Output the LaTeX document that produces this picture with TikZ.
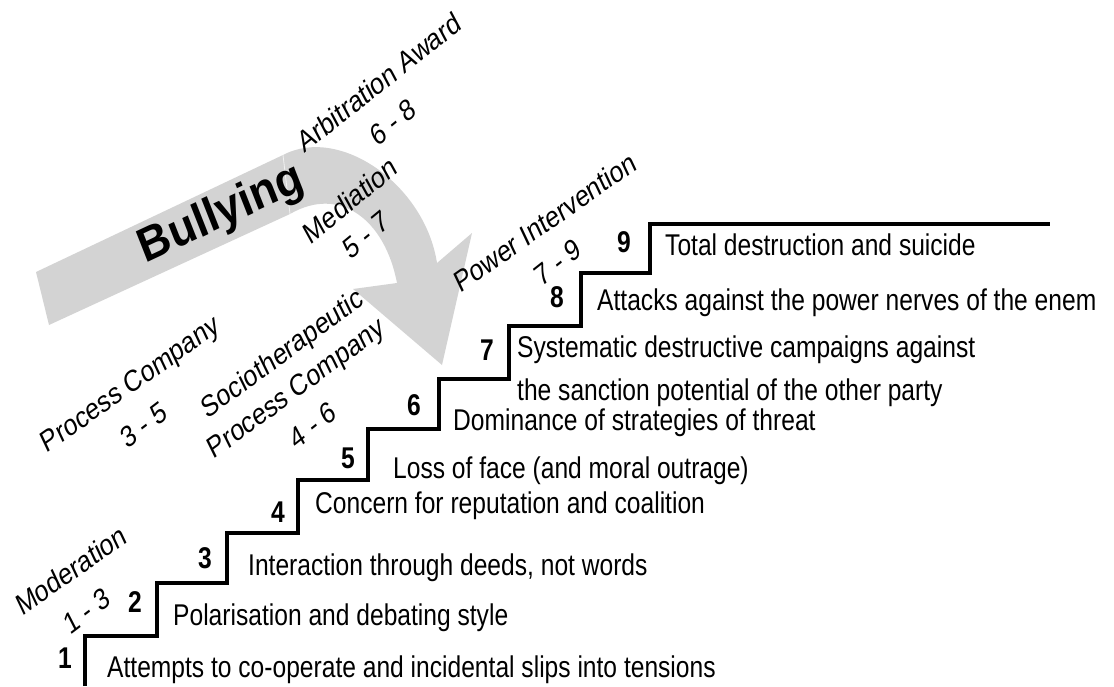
\documentclass[tikz,border=0pt]{standalone}
\usepackage{fontspec}
\setmainfont{Liberation Sans}
\newfontfamily\narrowfont{Liberation Sans}[FakeStretch=0.82]
\definecolor{arrowgray}{RGB}{211,211,211}
\tikzset{
  stairtext/.style={anchor=base west, inner sep=0pt, font=\narrowfont\fontsize{30}{36}\selectfont},
  stepnum/.style={anchor=base, inner sep=0pt, font=\narrowfont\bfseries\fontsize{30}{36}\selectfont},
  phase/.style={inner sep=0pt, font=\fontsize{30}{36}\selectfont},
  stairline/.style={line width=3.2pt, line join=miter, line cap=butt},
}
% slanted intervention label: name, x, y, angle, text
\newcommand{\phaselabel}[5]{%
  \begin{scope}[shift={(#2,#3)}, xscale=0.82, rotate=#4, transform shape]
    \node[phase] (#1) at (0,0) {#5};
  \end{scope}}
\begin{document}
\begin{tikzpicture}[x=1pt, y=-1pt]
\useasboundingbox (0,0) rectangle (1114,686);

% curved grey arrow
\fill[arrowgray] (36,272) -- (283,155)
  .. controls (340,125) and (425,185) .. (437,263)
  -- (472,233) -- (442,365) -- (353,289) -- (397,283)
  .. controls (385,220) and (340,185) .. (290,214)
  -- (49,325) -- cycle;
\draw[white, line width=0.8pt, opacity=0.7] (283,155) -- (290,214);

\begin{scope}[shift={(226,226)}, xscale=0.92, rotate=23.2, transform shape]
  \node[anchor=base, inner sep=0pt, font=\bfseries\fontsize{48}{52}\selectfont] (bully) at (0,0) {Bullying};
\end{scope}

% staircase
\draw[stairline] (85,686) -- (85,636) -- (157,636) -- (157,583) -- (227,583)
  -- (227,533) -- (298,533) -- (298,480) -- (368,480) -- (368,429)
  -- (439,429) -- (439,379) -- (509,379) -- (509,326) -- (581,326)
  -- (581,273) -- (650,273) -- (650,224) -- (1050,224);

% step numbers
\node[stepnum] (n1) at (65,668) {1};
\node[stepnum] (n2) at (135,612) {2};
\node[stepnum] (n3) at (205,568) {3};
\node[stepnum] (n4) at (278,522) {4};
\node[stepnum] (n5) at (348,468) {5};
\node[stepnum] (n6) at (414,415) {6};
\node[stepnum] (n7) at (487,360) {7};
\node[stepnum] (n8) at (557,307) {8};
\node[stepnum] (n9) at (624,252) {9};

% step descriptions
\node[stairtext] (t1) at (107,677) {Attempts to co-operate and incidental slips into tensions};
\node[stairtext] (t2) at (173,625) {Polarisation and debating style};
\node[stairtext] (t3) at (248,575) {Interaction through deeds, not words};
\node[stairtext] (t4) at (315,513) {Concern for reputation and coalition};
\node[stairtext] (t5) at (393,478) {Loss of face (and moral outrage)};
\node[stairtext] (t6) at (453,430) {Dominance of strategies of threat};
\node[stairtext] (t7a) at (517,357) {Systematic destructive campaigns against};
\node[stairtext] (t7b) at (517,400) {the sanction potential of the other party};
\node[stairtext] (t8) at (597,310) {Attacks against the power nerves of the enem};
\node[stairtext] (t9) at (665,255) {Total destruction and suicide};

% interventions
\phaselabel{moderation}{71}{570}{30}{Moderation}
\phaselabel{r13}{87}{611}{32}{1 - 3}
\phaselabel{pc1}{131}{386}{30}{Process Company}
\phaselabel{r35}{144}{425}{32}{3 - 5}
\phaselabel{socio}{283}{355}{31}{Sociotherapeutic}
\phaselabel{pc2}{297}{390}{31}{Process Company}
\phaselabel{r46}{313}{425}{33}{4 - 6}
\phaselabel{mediation}{350}{200}{34}{Mediation}
\phaselabel{r57}{366}{235}{34}{5 - 7}
\phaselabel{arbitration}{379}{82}{33}{Arbitration Award}
\phaselabel{r68}{393}{122}{34}{6 - 8}
\phaselabel{power}{545}{222}{30}{Power Intervention}
\phaselabel{r79}{558}{262}{33}{7 - 9}
\end{tikzpicture}
\end{document}
